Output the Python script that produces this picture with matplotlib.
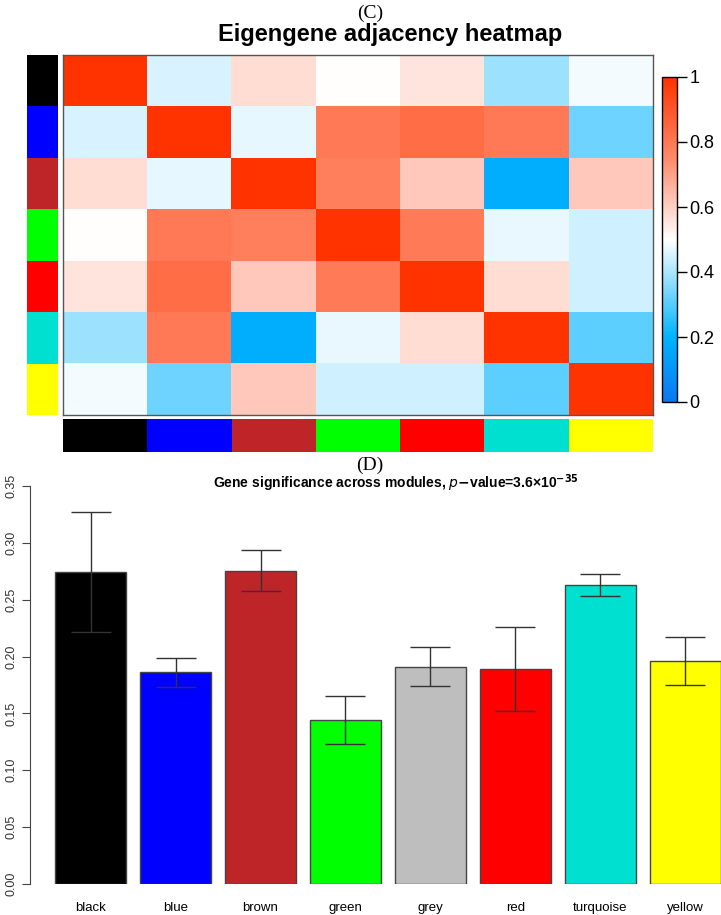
import numpy as np
import matplotlib
matplotlib.use("Agg")
import matplotlib.pyplot as plt
from matplotlib.colors import LinearSegmentedColormap

# module names and their colours
modules = ["black", "blue", "brown", "green", "red", "turquoise", "yellow"]
mod_colors = ["#000000", "#0000FF", "#BE2528", "#00FF00", "#FF0000", "#00E0D0", "#FFFF00"]

# eigengene adjacency (symmetric)
adj = np.array([
    [1.00, 0.457, 0.573, 0.50, 0.555, 0.385, 0.485],
    [0.457, 1.00, 0.47, 0.796, 0.83, 0.796, 0.33],
    [0.573, 0.47, 1.00, 0.78, 0.617, 0.18, 0.617],
    [0.50, 0.796, 0.78, 1.00, 0.79, 0.475, 0.445],
    [0.555, 0.83, 0.617, 0.79, 1.00, 0.573, 0.445],
    [0.385, 0.796, 0.18, 0.475, 0.573, 1.00, 0.31],
    [0.485, 0.33, 0.617, 0.445, 0.445, 0.31, 1.00],
])
cbar_ticks = [0, 0.2, 0.4, 0.6, 0.8, 1]
cbar_labels = ["0", "0.2", "0.4", "0.6", "0.8", "1"]

# gene significance bar plot
bar_names = ["black", "blue", "brown", "green", "grey", "red", "turquoise", "yellow"]
bar_colors = ["#000000", "#0000FF", "#BE2528", "#00FF00", "#BEBEBE", "#FF0000", "#00E0D0", "#FFFF00"]
gs_mean = [0.2745, 0.186, 0.2755, 0.144, 0.191, 0.189, 0.263, 0.196]
gs_err = [0.053, 0.013, 0.018, 0.021, 0.017, 0.037, 0.010, 0.021]
y_ticks = [0.00, 0.05, 0.10, 0.15, 0.20, 0.25, 0.30, 0.35]

W, H = 721, 915
fig = plt.figure(figsize=(W / 100, H / 100), dpi=100)


def rect(x0, y0, x1, y1):  # pixel box -> figure fraction
    return [x0 / W, 1 - y1 / H, (x1 - x0) / W, (y1 - y0) / H]


cmap = LinearSegmentedColormap.from_list(
    "bwr2", [(0, "#0A78F0"), (0.2, "#00B4FF"), (0.5, "#FFFFFF"), (0.75, "#FF8A6A"), (1, "#FF3300")])

# ---- panel C ----
fig.text(370 / W, 1 - 13 / H, "(C)", ha="center", va="center", fontsize=14, family="Liberation Serif")
fig.text(390 / W, 1 - 35 / H, "Eigengene adjacency heatmap", ha="center", va="center",
         fontsize=17, fontweight="bold", family="Liberation Sans")

n = len(modules)
ax = fig.add_axes(rect(63, 55, 653, 415))
im = ax.imshow(adj, cmap=cmap, vmin=0, vmax=1, aspect="auto", interpolation="nearest")
ax.set_xticks([])
ax.set_yticks([])
for s in ax.spines.values():
    s.set_color("#555555")
    s.set_linewidth(1)

axl = fig.add_axes(rect(27, 55, 58, 415))
for i, c in enumerate(mod_colors):
    axl.bar(0, 1, bottom=n - 1 - i, width=1, color=c, align="edge")
axl.set_xlim(0, 1)
axl.set_ylim(0, n)
axl.axis("off")

axb = fig.add_axes(rect(63, 419, 653, 452))
for i, c in enumerate(mod_colors):
    axb.bar(i, 1, width=1, color=c, align="edge")
axb.set_xlim(0, n)
axb.set_ylim(0, 1)
axb.axis("off")

cax = fig.add_axes(rect(662, 77, 677, 402))
cb = fig.colorbar(im, cax=cax, ticks=cbar_ticks)
cb.ax.set_yticklabels(cbar_labels, fontsize=13, family="Liberation Sans")
cb.ax.tick_params(length=7, width=1, pad=2)
cb.outline.set_linewidth(1)

# ---- panel D ----
fig.text(370 / W, 1 - 465 / H, "(D)", ha="center", va="center", fontsize=14, family="Liberation Serif")
fig.text(396 / W, 1 - 483 / H,
         r"Gene significance across modules, $\bf{\it{p}}$$\bf{-}$value=3.6×10$^{\bf{-35}}$",
         ha="center", va="center", fontsize=10, fontweight="bold", family="Liberation Sans")

ax2 = fig.add_axes(rect(30, 486, 721, 884))
x = np.arange(len(bar_names))
ax2.bar(x, gs_mean, width=0.835, color=bar_colors, edgecolor="#444444", linewidth=1)
ax2.errorbar(x, gs_mean, yerr=gs_err, fmt="none", ecolor="#333333", elinewidth=1,
             capsize=14.5, capthick=1)
ax2.set_xlim(-0.712, 7.418)
ax2.set_ylim(0, 0.35)
for s in ["top", "right", "bottom"]:
    ax2.spines[s].set_visible(False)
ax2.spines["left"].set_color("#444444")
ax2.spines["left"].set_bounds(0, 0.35)
ax2.set_yticks(y_ticks)
ax2.set_yticklabels(["%.2f" % v for v in y_ticks], rotation=90, va="center",
                    fontsize=9, family="Liberation Sans", color="#333333")
ax2.tick_params(axis="y", length=6, pad=3, color="#444444")
ax2.set_xticks(x)
ax2.set_xticklabels(bar_names, fontsize=9.5, family="Liberation Sans")
ax2.tick_params(axis="x", length=0, pad=13)

fig.savefig("out.png", dpi=100)
